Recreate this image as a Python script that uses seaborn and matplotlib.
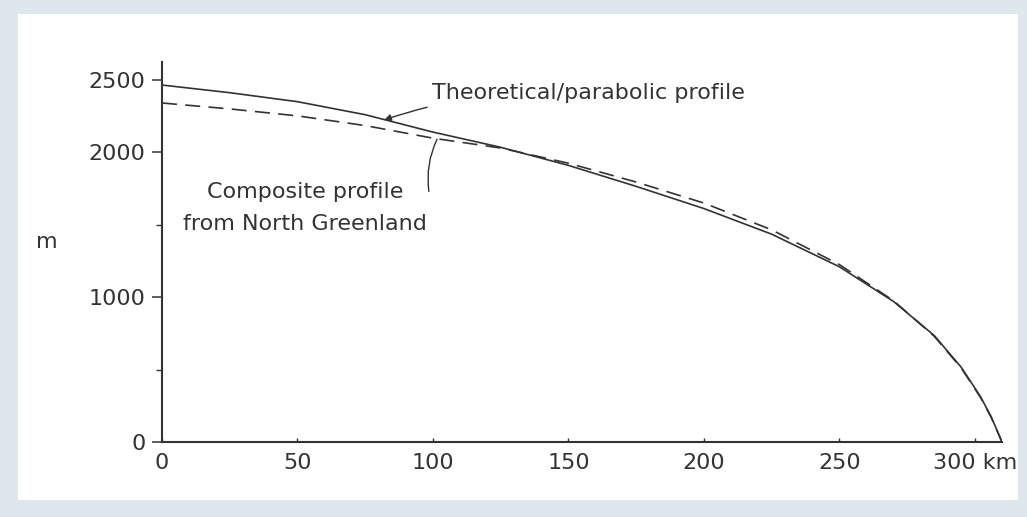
import matplotlib
matplotlib.use("Agg")
import matplotlib.pyplot as plt
import seaborn as sns
import pandas as pd
from matplotlib.patches import Rectangle

# ---- data ----
dist_km = [0, 25, 50, 75, 100, 125, 150, 175, 200, 225, 250, 270, 285, 295, 302, 306, 310]
theoretical_m = [2465, 2412, 2350, 2260, 2140, 2035, 1910, 1765, 1612, 1435, 1210, 970, 735, 515, 315, 175, 0]
composite_m = [2341, 2300, 2252, 2185, 2098, 2030, 1925, 1795, 1650, 1465, 1225, 975, 730, 510, 310, 170, 0]
x_ticks = [0, 50, 100, 150, 200, 250, 300]
x_tick_labels = ['0', '50', '100', '150', '200', '250', '300 km']
y_ticks = [0, 1000, 2000, 2500]
y_minor = [500, 1500]

sns.set_theme(style="white")
plt.rcParams['font.family'] = ['DejaVu Sans']

INK = '#333333'
FS = 16
fig = plt.figure(figsize=(10.27, 5.17), dpi=100)
fig.patch.set_facecolor('#dde7ec')
bg = Rectangle((18 / 1027, 1 - 500 / 517), (1018 - 18) / 1027, (500 - 14) / 517,
               transform=fig.transFigure, facecolor='white', edgecolor='none', zorder=-10)
fig.patches.append(bg)

ax = fig.add_axes([162 / 1027, 75 / 517, 840 / 1027, 380 / 517])
ax.set_zorder(5)
ax.set_facecolor('none')

df_t = pd.DataFrame({'km': dist_km, 'm': theoretical_m})
df_c = pd.DataFrame({'km': dist_km, 'm': composite_m})
sns.lineplot(data=df_t, x='km', y='m', ax=ax, color=INK, linewidth=1.2, sort=False)
sns.lineplot(data=df_c, x='km', y='m', ax=ax, color=INK, linewidth=1.2, sort=False, dashes=False,
             linestyle=(0, (9, 5)))

ax.set_xlim(0, 310)
ax.set_ylim(0, 2624)
ax.set_xticks(x_ticks)
ax.set_xticklabels(x_tick_labels)
ax.set_yticks(y_ticks)
ax.set_yticks(y_minor, minor=True)
ax.tick_params(axis='y', which='major', direction='out', length=7, width=1.1, color=INK,
               labelsize=FS, labelcolor=INK, pad=5, left=True)
ax.tick_params(axis='y', which='minor', direction='out', length=4, width=1.0, color=INK, left=True)
ax.tick_params(axis='x', which='major', direction='in', length=3, width=1.0, color=INK,
               labelsize=FS, labelcolor=INK, pad=8, bottom=True)

for s in ['top', 'right']:
    ax.spines[s].set_visible(False)
for s in ['left', 'bottom']:
    ax.spines[s].set_color(INK)
    ax.spines[s].set_linewidth(1.5)

ax.set_xlabel('')
ax.set_ylabel('m', rotation=0, fontsize=FS, color=INK)
ax.yaxis.set_label_coords(-0.137, 0.50)

ax.annotate('Theoretical/parabolic profile', xy=(82, 2224), xytext=(99.6, 2410),
            ha='left', va='center', fontsize=FS, color=INK,
            arrowprops=dict(arrowstyle='-|>', color=INK, lw=1.0, mutation_scale=10,
                            shrinkA=3, shrinkB=0, connectionstyle='arc3,rad=0.1'))

ax.text(52.8, 1616, 'Composite profile\nfrom North Greenland', ha='center', va='center',
        fontsize=FS, color=INK, linespacing=1.8, multialignment='center')
ax.annotate('', xy=(101.5, 2090), xytext=(98.5, 1730),
            arrowprops=dict(arrowstyle='-', color=INK, lw=1.0, shrinkA=0, shrinkB=0,
                            connectionstyle='arc3,rad=-0.15'))

fig.savefig('out.png', dpi=100, facecolor=fig.get_facecolor())
